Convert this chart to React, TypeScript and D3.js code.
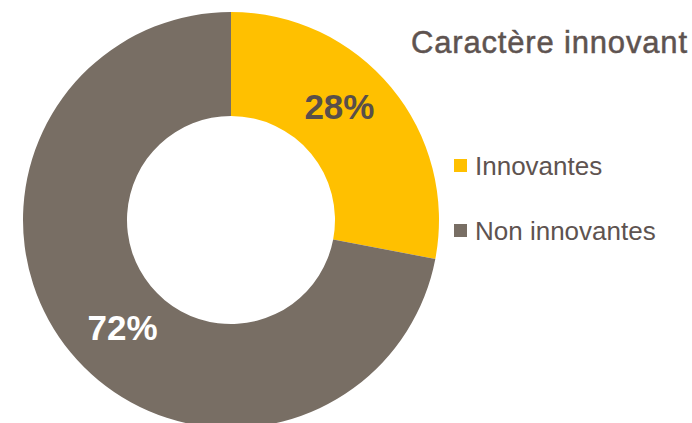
import React from "react";
import * as d3 from "d3";

const categories = ["Innovantes", "Non innovantes"];
const values = [28, 72];
const labels = ["28%", "72%"];
const colors = ["#FFC000", "#786E64"];
const labelColors = ["#594F4A", "#FFFFFF"];
const title = "Caractère innovant";

export default function App() {
  const width = 692;
  const height = 423;
  const cx = 231;
  const cy = 220;
  const outerR = 208;
  const innerR = 104;

  const pie = d3.pie<number>().sort(null).value((d) => d)(values);
  const arc = d3.arc<d3.PieArcDatum<number>>().innerRadius(innerR).outerRadius(outerR);
  const labelR = 155;
  const offset = (-6 * Math.PI) / 180;

  return (
    <svg
      width={width}
      height={height}
      style={{ position: "absolute", left: 0, top: 0, background: "#fff" }}
    >
      <g transform={`translate(${cx},${cy})`}>
        {pie.map((p, i) => (
          <path key={i} d={arc(p) || ""} fill={colors[i]} />
        ))}
        {pie.map((p, i) => {
          const a = (p.startAngle + p.endAngle) / 2 + offset;
          const x = labelR * Math.sin(a);
          const y = -labelR * Math.cos(a);
          return (
            <text
              key={i}
              x={x}
              y={y}
              dy="0.27em"
              textAnchor="middle"
              fontFamily="'Liberation Sans', Arial, sans-serif"
              fontWeight="bold"
              fontSize={35}
              fill={labelColors[i]}
            >
              {labels[i]}
            </text>
          );
        })}
      </g>
      <text
        x={411}
        y={53}
        fontFamily="'Liberation Sans', Arial, sans-serif"
        fontSize={31}
        fill="#5E5350"
        stroke="#5E5350"
        strokeWidth={0.5}
        textLength={276}
        lengthAdjust="spacing"
      >
        {title}
      </text>
      {categories.map((c, i) => (
        <g key={c} transform={`translate(454,${159 + i * 65})`}>
          <rect x={0} y={0} width={13} height={13} fill={colors[i]} />
          <text
            x={21}
            y={16}
            fontFamily="'Liberation Sans', Arial, sans-serif"
            fontSize={26}
            fill="#5E5350"
          >
            {c}
          </text>
        </g>
      ))}
    </svg>
  );
}
